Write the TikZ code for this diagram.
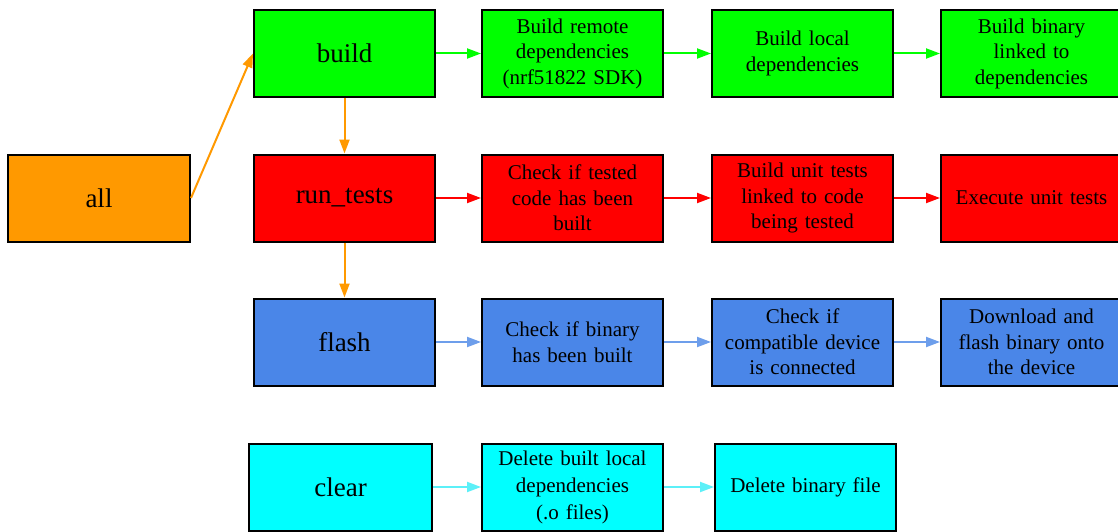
\documentclass[tikz,border=0pt]{standalone}
\usepackage{fontspec}
\setmainfont{Liberation Serif}
\usetikzlibrary{arrows.meta}

\definecolor{cgreen}{HTML}{00FF00}
\definecolor{cred}{HTML}{FF0000}
\definecolor{cblue}{HTML}{4A86E8}
\definecolor{cblueline}{HTML}{6D9EEB}
\definecolor{ccyan}{HTML}{00FFFF}
\definecolor{ccyanline}{HTML}{5CF0F8}
\definecolor{corange}{HTML}{FF9900}

\tikzset{
  box/.style={draw=black, line width=2pt, minimum width=181pt, minimum height=87pt,
    inner sep=0pt, align=center, text width=175pt,
    font=\fontsize{21}{25.5}\selectfont},
  target/.style={box, font=\fontsize{27}{31}\selectfont},
  link/.style={line width=2pt, -{Triangle[length=14pt,width=10pt]}},
}

\begin{document}
\begin{tikzpicture}[x=1pt, y=-1pt]
  \clip (0,0) rectangle (1118,532);
  \fill[white] (0,0) rectangle (1118,532);

  % targets
  \node[target, fill=corange, minimum width=182pt] (all) at (99,198) {all};
  \node[target, fill=cgreen] (build) at (344.5,53.5) {build};
  \node[target, fill=cred] (tests) at (344.5,198) {run\_tests};
  \node[target, fill=cblue] (flash) at (344.5,342) {flash};
  \node[target, fill=ccyan, minimum width=183pt] (clear) at (340.5,487) {clear};

  % build steps
  \node[box, fill=cgreen] (b1) at (572.5,53.5) {Build remote\\dependencies\\(nrf51822 SDK)};
  \node[box, fill=cgreen] (b2) at (802.5,53.5) {Build local\\dependencies};
  \node[box, fill=cgreen] (b3) at (1031.5,53.5) {Build binary\\linked to\\dependencies};

  % test steps
  \node[box, fill=cred] (t1) at (572.5,198) {Check if tested\\code has been\\built};
  \node[box, fill=cred] (t2) at (802.5,198) {Build unit tests\\linked to code\\being tested};
  \node[box, fill=cred] (t3) at (1031.5,198) {Execute unit tests};

  % flash steps
  \node[box, fill=cblue] (f1) at (572.5,342) {Check if binary\\has been built};
  \node[box, fill=cblue] (f2) at (802.5,342) {Check if\\compatible device\\is connected};
  \node[box, fill=cblue] (f3) at (1031.5,342) {Download and\\flash binary onto\\the device};

  % clean-up steps
  \node[box, fill=ccyan, font=\fontsize{21}{27}\selectfont] (c1) at (572.5,487) {Delete built local\\dependencies\\(.o files)};
  \node[box, fill=ccyan] (c2) at (805.5,487) {Delete binary file};

  % dependencies between targets
  \draw[link, corange] (all.east) -- (build.west);
  \draw[link, corange] (build) -- (tests);
  \draw[link, corange] (tests) -- (flash);

  % step chains
  \draw[link, cgreen] (build) -- (b1);
  \draw[link, cgreen] (b1) -- (b2);
  \draw[link, cgreen] (b2) -- (b3);
  \draw[link, cred] (tests) -- (t1);
  \draw[link, cred] (t1) -- (t2);
  \draw[link, cred] (t2) -- (t3);
  \draw[link, cblueline] (flash) -- (f1);
  \draw[link, cblueline] (f1) -- (f2);
  \draw[link, cblueline] (f2) -- (f3);
  \draw[link, ccyanline] (clear) -- (c1);
  \draw[link, ccyanline] (c1) -- (c2);
\end{tikzpicture}
\end{document}
